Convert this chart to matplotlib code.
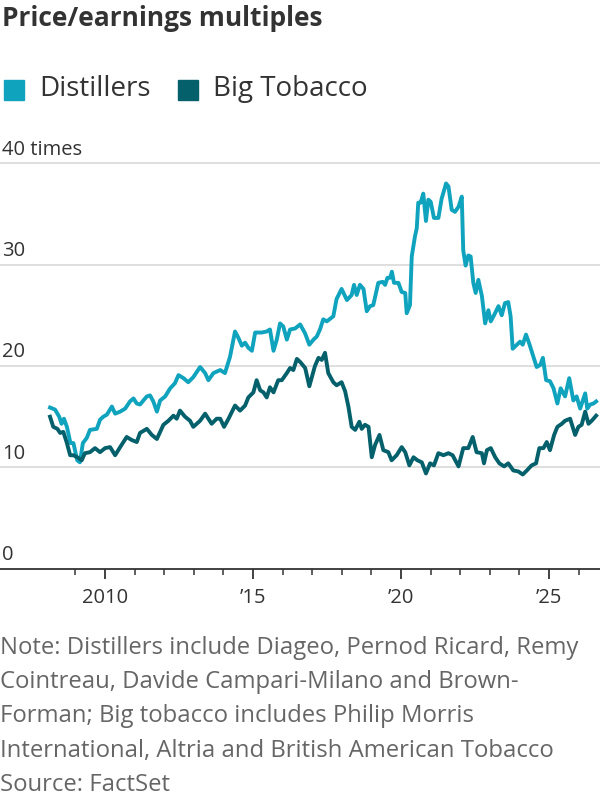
import matplotlib.pyplot as plt
import matplotlib.transforms as mtransforms

# decimal years and P/E multiples
dist_years = [2008.14, 2008.31, 2008.45, 2008.53, 2008.61, 2008.71, 2008.83, 2008.93, 2009.06, 2009.15,
              2009.25, 2009.38, 2009.49, 2009.72, 2009.83, 2009.94, 2010.06, 2010.23, 2010.34, 2010.51,
              2010.68, 2010.84, 2010.96, 2011.07, 2011.18, 2011.41, 2011.52, 2011.63, 2011.75, 2011.86,
              2012.03, 2012.20, 2012.36, 2012.48, 2012.65, 2012.81, 2012.98, 2013.21, 2013.38, 2013.49,
              2013.66, 2013.89, 2014.05, 2014.22, 2014.39, 2014.50, 2014.62, 2014.73, 2014.84, 2014.96,
              2015.07, 2015.29, 2015.46, 2015.57, 2015.69, 2015.80, 2015.91, 2016.02, 2016.14, 2016.25,
              2016.42, 2016.59, 2016.76, 2016.90, 2017.04, 2017.15, 2017.26, 2017.37, 2017.49, 2017.71,
              2017.82, 2017.99, 2018.17, 2018.33, 2018.41, 2018.50, 2018.61, 2018.73, 2018.84, 2018.95,
              2019.06, 2019.23, 2019.38, 2019.46, 2019.54, 2019.63, 2019.69, 2019.76, 2019.91, 2020.02,
              2020.14, 2020.19, 2020.30, 2020.36, 2020.47, 2020.53, 2020.58, 2020.66, 2020.75, 2020.84,
              2020.92, 2021.00, 2021.11, 2021.26, 2021.37, 2021.52, 2021.60, 2021.71, 2021.82, 2021.94,
              2022.05, 2022.10, 2022.18, 2022.27, 2022.35, 2022.44, 2022.52, 2022.61, 2022.73, 2022.84,
              2022.95, 2023.03, 2023.14, 2023.29, 2023.40, 2023.51, 2023.62, 2023.70, 2023.77, 2023.91,
              2024.02, 2024.11, 2024.22, 2024.33, 2024.47, 2024.58, 2024.70, 2024.79, 2024.90, 2025.03,
              2025.15, 2025.28, 2025.39, 2025.54, 2025.68, 2025.82, 2025.93, 2026.05, 2026.22, 2026.29,
              2026.39, 2026.50, 2026.59]
distillers = [15.9, 15.7, 15.0, 14.3, 14.8, 14.0, 12.4, 12.4, 10.7, 10.5,
              12.4, 12.9, 13.7, 13.8, 14.7, 15.0, 15.2, 16.0, 15.3, 15.5,
              15.8, 16.5, 16.8, 16.3, 16.2, 17.0, 17.1, 16.5, 15.5, 16.6,
              17.0, 17.8, 18.3, 19.1, 18.8, 18.4, 18.9, 19.9, 19.3, 18.6,
              19.3, 19.6, 19.3, 20.9, 23.4, 22.8, 22.0, 22.3, 21.8, 21.5,
              23.3, 23.3, 23.4, 23.6, 21.5, 22.6, 24.2, 23.9, 22.6, 23.6,
              23.7, 24.1, 23.2, 22.1, 22.6, 22.9, 23.6, 24.6, 24.4, 24.9,
              26.6, 27.6, 26.5, 27.0, 28.0, 27.0, 28.0, 27.6, 25.4, 25.9,
              26.0, 28.2, 28.3, 28.0, 28.7, 28.7, 29.3, 28.2, 28.2, 27.3,
              27.2, 25.2, 26.0, 30.8, 32.8, 33.6, 36.1, 36.1, 37.0, 34.3,
              36.4, 36.2, 34.6, 34.6, 36.5, 38.0, 37.7, 35.4, 35.2, 35.7,
              36.7, 31.4, 29.9, 30.9, 30.8, 28.2, 27.2, 28.5, 26.9, 24.2,
              25.5, 24.4, 25.0, 25.9, 25.0, 26.2, 26.3, 24.9, 21.7, 22.1,
              22.4, 22.1, 23.1, 22.2, 20.9, 19.9, 20.1, 20.8, 18.6, 18.5,
              17.8, 16.3, 17.8, 17.0, 18.8, 16.6, 17.0, 15.8, 17.3, 15.8,
              16.2, 16.3, 16.5]

tob_years = [2008.14, 2008.25, 2008.39, 2008.48, 2008.59, 2008.71, 2008.82, 2008.93, 2009.06, 2009.21,
             2009.32, 2009.49, 2009.66, 2009.83, 2010.00, 2010.17, 2010.34, 2010.51, 2010.73, 2010.90,
             2011.07, 2011.18, 2011.41, 2011.58, 2011.75, 2011.97, 2012.14, 2012.31, 2012.42, 2012.53,
             2012.70, 2012.87, 2012.98, 2013.21, 2013.38, 2013.60, 2013.77, 2013.89, 2014.02, 2014.17,
             2014.39, 2014.56, 2014.73, 2014.84, 2015.01, 2015.12, 2015.24, 2015.35, 2015.46, 2015.57,
             2015.69, 2015.85, 2015.97, 2016.14, 2016.25, 2016.36, 2016.48, 2016.59, 2016.76, 2016.90,
             2017.09, 2017.21, 2017.32, 2017.43, 2017.54, 2017.71, 2017.82, 2017.99, 2018.11, 2018.22,
             2018.33, 2018.45, 2018.59, 2018.67, 2018.78, 2018.90, 2019.01, 2019.12, 2019.27, 2019.40,
             2019.57, 2019.68, 2019.85, 2020.02, 2020.14, 2020.28, 2020.42, 2020.55, 2020.70, 2020.84,
             2020.98, 2021.11, 2021.26, 2021.43, 2021.60, 2021.74, 2021.94, 2022.10, 2022.27, 2022.42,
             2022.55, 2022.73, 2022.80, 2022.90, 2023.03, 2023.18, 2023.32, 2023.48, 2023.62, 2023.79,
             2023.96, 2024.11, 2024.25, 2024.41, 2024.56, 2024.67, 2024.81, 2024.92, 2025.03, 2025.17,
             2025.28, 2025.43, 2025.54, 2025.71, 2025.88, 2025.99, 2026.10, 2026.22, 2026.33, 2026.44,
             2026.59]
tobacco = [15.0, 14.0, 13.8, 13.4, 13.5, 12.4, 11.2, 11.2, 11.0, 10.7,
           11.4, 11.5, 11.9, 11.5, 11.9, 12.0, 11.2, 12.0, 13.0, 12.7,
           12.5, 13.4, 13.8, 13.2, 12.8, 14.2, 14.6, 15.1, 14.8, 15.6,
           15.0, 14.6, 14.0, 14.6, 15.3, 14.3, 14.8, 14.8, 14.0, 14.8,
           16.1, 15.6, 16.1, 16.9, 17.4, 18.6, 17.6, 17.4, 16.9, 17.9,
           17.4, 18.6, 18.6, 19.3, 19.8, 19.6, 20.7, 20.4, 19.8, 18.0,
           20.0, 20.8, 20.6, 21.3, 19.3, 18.4, 18.1, 18.4, 17.5, 16.0,
           14.0, 13.7, 14.5, 13.8, 14.2, 14.0, 11.0, 12.2, 13.2, 11.7,
           11.5, 10.7, 11.2, 12.0, 11.5, 10.2, 11.0, 10.7, 10.5, 9.4,
           10.4, 10.2, 11.4, 11.2, 11.4, 11.2, 10.1, 11.9, 11.9, 13.0,
           11.5, 11.4, 10.4, 11.7, 11.9, 11.0, 10.4, 10.1, 10.4, 9.7,
           9.6, 9.3, 9.7, 10.2, 10.4, 11.9, 11.9, 12.5, 11.7, 13.2,
           14.0, 14.3, 14.6, 14.8, 13.2, 14.0, 14.2, 15.5, 14.3, 14.6,
           15.1]

y_ticks = [0, 10, 20, 30, 40]
y_labels = ['0', '10', '20', '30', '40 times']
x_ticks = [2010, 2015, 2020, 2025]
x_labels = ['2010', '\u201915', '\u201920', '\u201925']
series_names = ['Distillers', 'Big Tobacco']
note_lines = ['Note: Distillers include Diageo, Pernod Ricard, Remy',
              'Cointreau, Davide Campari-Milano and Brown-',
              'Forman; Big tobacco includes Philip Morris',
              'International, Altria and British American Tobacco',
              'Source: FactSet']

c_dist = '#0fa3be'
c_tob = '#04606b'
txt = '#333333'

plt.rcParams['font.family'] = ['Open Sans', 'DejaVu Sans']

fig = plt.figure(figsize=(6, 8), dpi=100)
ax = fig.add_axes([0, 0.289, 1, 0.5235])

ax.plot(dist_years, distillers, color=c_dist, lw=2.8, solid_joinstyle='round', zorder=3)
ax.plot(tob_years, tobacco, color=c_tob, lw=2.8, solid_joinstyle='round', zorder=4)

ax.set_xlim(2006.45, 2026.72)
ax.set_ylim(0, 41.3)

for s in ['top', 'right', 'left']:
    ax.spines[s].set_visible(False)
ax.spines['bottom'].set_color(txt)
ax.spines['bottom'].set_linewidth(1.3)
ax.spines['bottom'].set_zorder(5)

ax.set_yticks(y_ticks)
ax.set_yticklabels([])
ax.tick_params(axis='y', length=0)
for v in y_ticks[1:]:
    ax.axhline(v, color='#dcdcdc', lw=1.3, zorder=1)

trans = mtransforms.blended_transform_factory(ax.transAxes, ax.transData)
for v, lab in zip(y_ticks, y_labels):
    ax.text(0.004, v + 0.35, lab, transform=trans, ha='left', va='bottom',
            fontsize=14.5, color=txt)

ax.set_xticks(x_ticks)
ax.set_xticklabels(x_labels, fontsize=14.5, color=txt)
ax.set_xticks(list(range(2009, 2027)), minor=True)
ax.tick_params(axis='x', which='major', length=7, width=1.3, color=txt, pad=7)
ax.tick_params(axis='x', which='minor', length=4, width=1.1, color=txt)

fig.text(0.003, 0.977, 'Price/earnings multiples', fontsize=19, fontweight='bold',
         color=txt, ha='left', va='center')

# legend squares + labels
fig.patches.append(plt.Rectangle((0.007, 0.875), 0.033, 0.025, color=c_dist,
                                 transform=fig.transFigure, figure=fig))
fig.text(0.065, 0.889, series_names[0], fontsize=20, color=txt, ha='left', va='center')
fig.patches.append(plt.Rectangle((0.297, 0.875), 0.033, 0.025, color=c_tob,
                                 transform=fig.transFigure, figure=fig))
fig.text(0.355, 0.889, series_names[1], fontsize=20, color=txt, ha='left', va='center')

for i, line in enumerate(note_lines):
    fig.text(0.0, 1 - (648 + i * 34.2) / 800, line, fontsize=17.2, color='#666666',
             ha='left', va='center')

fig.savefig('out.png', dpi=100)
